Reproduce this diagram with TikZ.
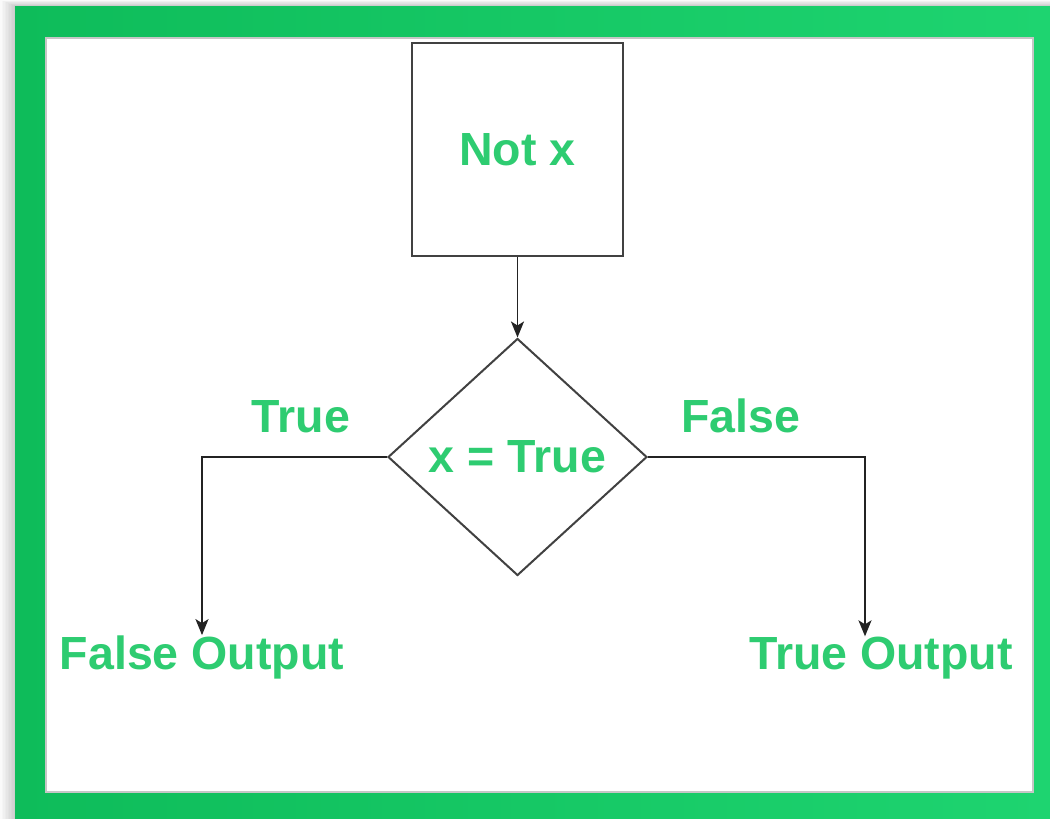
\documentclass[tikz,border=0pt]{standalone}
\usepackage{fontspec}
\setmainfont{Liberation Sans}
\usetikzlibrary{shapes.geometric,arrows.meta}
\definecolor{framegreenA}{RGB}{14,188,90}
\definecolor{framegreenB}{RGB}{30,212,112}
\definecolor{labelgreen}{RGB}{46,204,113}
\definecolor{linegray}{RGB}{35,35,35}
\definecolor{boxgray}{RGB}{65,65,65}
\tikzset{
  lbl/.style={text=labelgreen, font=\fontsize{46.5}{50}\selectfont\bfseries, inner sep=0pt},
  procbox/.style={lbl, draw=boxgray, line width=2.2pt, minimum width=211pt, minimum height=213pt},
  decision/.style={lbl, diamond, draw=boxgray, line width=2pt, aspect=1.093, minimum width=259pt, minimum height=237pt},
  flow/.style={draw=linegray, line width=1.9pt, -{Stealth[length=16pt,width=13pt,inset=4pt]}},
}
\begin{document}
\begin{tikzpicture}[x=1pt,y=-1pt]
  \useasboundingbox (0,0) rectangle (1050,819);
  % page and soft drop shadow behind the frame
  \fill[white] (0,0) rectangle (1050,819);
  \foreach \i in {1,...,10}
    \fill[black, opacity=0.018] (15-1.5*\i,6-0.6*\i) rectangle (1050,819);
  % green frame
  \shade[left color=framegreenA, right color=framegreenB] (15,6) rectangle (1050,819);
  % white panel with a faint inset edge
  \fill[white] (45,37) rectangle (1034,793);
  \draw[gray!45, line width=1.5pt] (46,38) rectangle (1033,792);

  % flowchart
  \node[procbox] (notx) at (517.5,149.5) {Not x};
  \node[decision] (cond) at (517.5,457) {x = True};
  \node[lbl, anchor=base] (tlab) at (301,432) {True};
  \node[lbl, anchor=base] (flab) at (741,432) {False};
  \node[lbl, anchor=base] (fout) at (202,669) {False Output};
  \node[lbl, anchor=base] (tout) at (881,669) {True Output};

  \draw[flow] (notx.south) -- (cond.north);
  \draw[flow] (cond.west) -| (fout.north);
  \draw[flow] (cond.east) -| ([xshift=-16pt]tout.north);
\end{tikzpicture}
\end{document}
